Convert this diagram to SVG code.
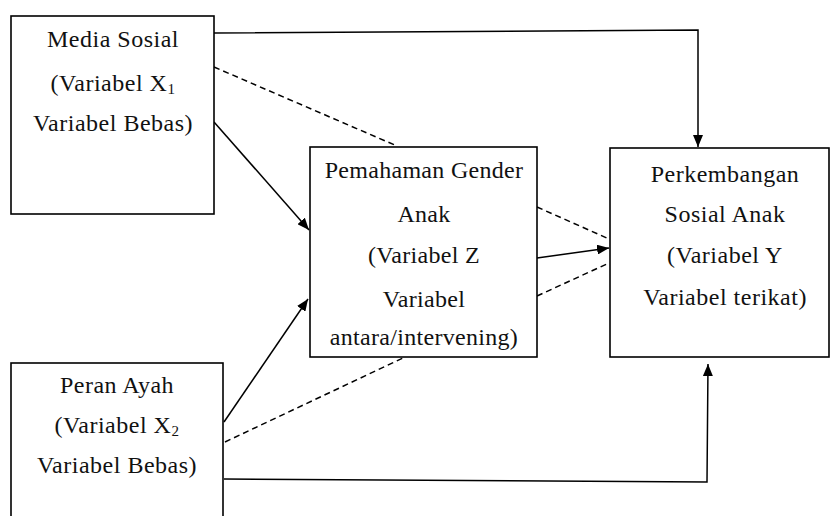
<svg xmlns="http://www.w3.org/2000/svg" width="830" height="516" viewBox="0 0 830 516">
<style>
.box{fill:#fff;stroke:#000;stroke-width:1.6}
.t{font-family:'Liberation Serif','Times New Roman',serif;font-size:24px;fill:#111;text-anchor:middle;letter-spacing:0.5px}
.tn{letter-spacing:0.3px}
.c{fill:none;stroke:#000;stroke-width:1.5}
.d{fill:none;stroke:#000;stroke-width:1.5;stroke-dasharray:6,4}
</style>
<defs>
<marker id="ah" viewBox="0 0 12 10" refX="12" refY="5" markerWidth="12" markerHeight="10" markerUnits="userSpaceOnUse" orient="auto">
<path d="M0,0 L12,5 L0,10 Z" fill="#000"/>
</marker>
</defs>
<rect width="830" height="516" fill="#fff"/>
<g id="connectors">
<polyline class="c" points="214,33 698,30 698,147" marker-end="url(#ah)"/>
<line class="c" x1="214" y1="122" x2="309" y2="230" marker-end="url(#ah)"/>
<line class="d" x1="214" y1="67" x2="397" y2="146"/>
<line class="c" x1="537" y1="258" x2="609" y2="248" marker-end="url(#ah)"/>
<line class="d" x1="537" y1="207" x2="609" y2="239"/>
<line class="d" x1="537" y1="296" x2="609" y2="263"/>
<line class="c" x1="224" y1="422" x2="308" y2="299" marker-end="url(#ah)"/>
<line class="d" x1="225" y1="442" x2="405" y2="357"/>
<polyline class="c" points="224,479 707,482 708,364" marker-end="url(#ah)"/>
</g>
<g id="node-media-sosial">
<rect class="box" x="11" y="16" width="203" height="198"/>
<text class="t" x="113" y="47">Media Sosial</text>
<text class="t" x="113" y="91">(Variabel X<tspan font-size="15" dy="3">1</tspan></text>
<text class="t" x="113" y="131">Variabel Bebas)</text>
</g>
<g id="node-pemahaman-gender">
<rect class="box" x="310" y="147" width="227" height="210"/>
<text class="t tn" x="424" y="178">Pemahaman Gender</text>
<text class="t tn" x="424" y="222">Anak</text>
<text class="t tn" x="424" y="263">(Variabel Z</text>
<text class="t tn" x="424" y="307">Variabel</text>
<text class="t tn" x="424" y="345">antara/intervening)</text>
</g>
<g id="node-perkembangan">
<rect class="box" x="610" y="148" width="219" height="209"/>
<text class="t" x="725" y="182">Perkembangan</text>
<text class="t" x="725" y="222">Sosial Anak</text>
<text class="t" x="725" y="263">(Variabel Y</text>
<text class="t" x="725" y="305">Variabel terikat)</text>
</g>
<g id="node-peran-ayah">
<rect class="box" x="11" y="363" width="212" height="160"/>
<text class="t" x="117" y="393">Peran Ayah</text>
<text class="t" x="117" y="433">(Variabel X<tspan font-size="15" dy="3">2</tspan></text>
<text class="t" x="117" y="473">Variabel Bebas)</text>
</g>
</svg>
